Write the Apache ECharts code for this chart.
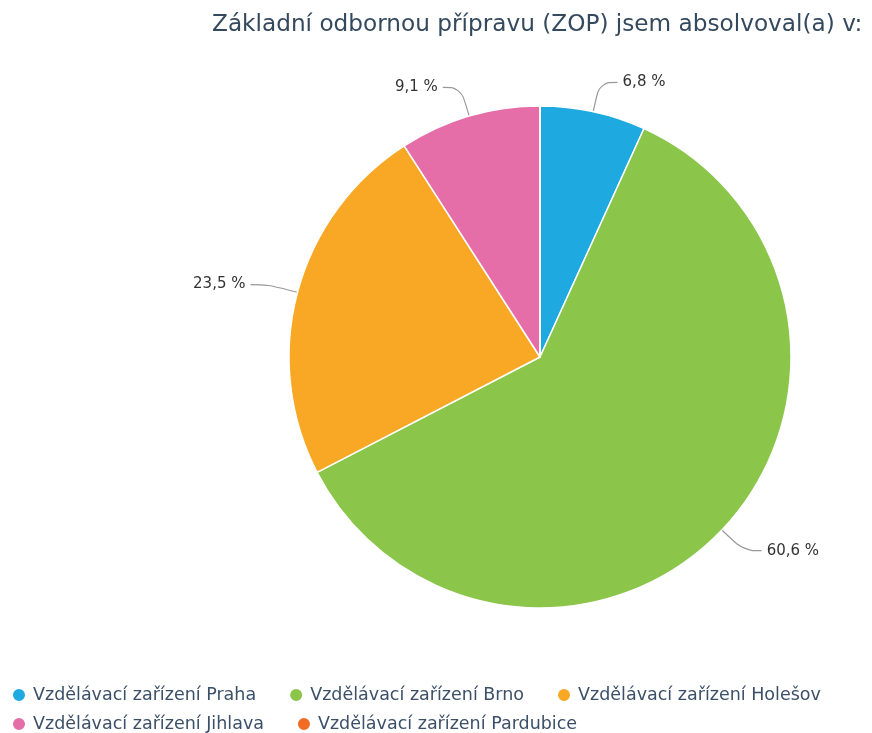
<!DOCTYPE html>
<html>
<head>
<meta charset="utf-8">
<script src="https://cdn.jsdelivr.net/npm/echarts@6/dist/echarts.min.js"></script>
<style>
  html, body { margin: 0; padding: 0; background: #fff; }
  #chart { width: 872px; height: 733px; }
</style>
</head>
<body>
<div id="chart"></div>
<script>
var categories = [
  "Vzdělávací zařízení Praha",
  "Vzdělávací zařízení Brno",
  "Vzdělávací zařízení Holešov",
  "Vzdělávací zařízení Jihlava",
  "Vzdělávací zařízení Pardubice"
];
var values = [6.8, 60.6, 23.5, 9.1, 0];
var colors = ["#1fa9e1", "#8bc64a", "#f9a825", "#e56ea9", "#f26c26"];

var chart = echarts.init(document.getElementById("chart"), null, { renderer: "canvas" });

var pieData = [];
for (var i = 0; i < categories.length; i++) {
  pieData.push({
    name: categories[i],
    value: values[i],
    label: { show: values[i] > 0 },
    labelLine: { show: values[i] > 0 }
  });
}

var legendText = {
  fontFamily: "DejaVu Sans",
  fontSize: 17.5,
  color: "#3b5068",
  padding: [0, 0, 0, 2]
};

var option = {
  color: colors,
  textStyle: { fontFamily: "DejaVu Sans" },
  title: {
    text: "Základní odbornou přípravu (ZOP) jsem absolvoval(a) v:",
    left: 207,
    top: 8,
    textStyle: {
      fontFamily: "DejaVu Sans",
      fontSize: 23.2,
      fontWeight: "normal",
      color: "#34495e"
    }
  },
  legend: [
    {
      data: categories.slice(0, 3),
      left: 6,
      top: 681,
      icon: "circle",
      itemWidth: 14,
      itemHeight: 14,
      itemGap: 32,
      textStyle: legendText
    },
    {
      data: categories.slice(3),
      left: 6,
      top: 710,
      icon: "circle",
      itemWidth: 14,
      itemHeight: 14,
      itemGap: 32,
      textStyle: legendText
    }
  ],
  series: [
    {
      type: "pie",
      center: [540, 357],
      radius: 251,
      startAngle: 90,
      clockwise: true,
      avoidLabelOverlap: false,
      itemStyle: { borderColor: "#fff", borderWidth: 1.5 },
      label: {
        color: "#333",
        fontSize: 15,
        fontFamily: "DejaVu Sans",
        formatter: function (p) {
          return p.value.toFixed(1).replace(".", ",") + " %";
        }
      },
      labelLine: {
        length: 30,
        length2: 18,
        smooth: 0.4,
        lineStyle: { color: "#999", width: 1.2 }
      },
      data: pieData
    }
  ]
};

chart.setOption(option);
</script>
</body>
</html>
